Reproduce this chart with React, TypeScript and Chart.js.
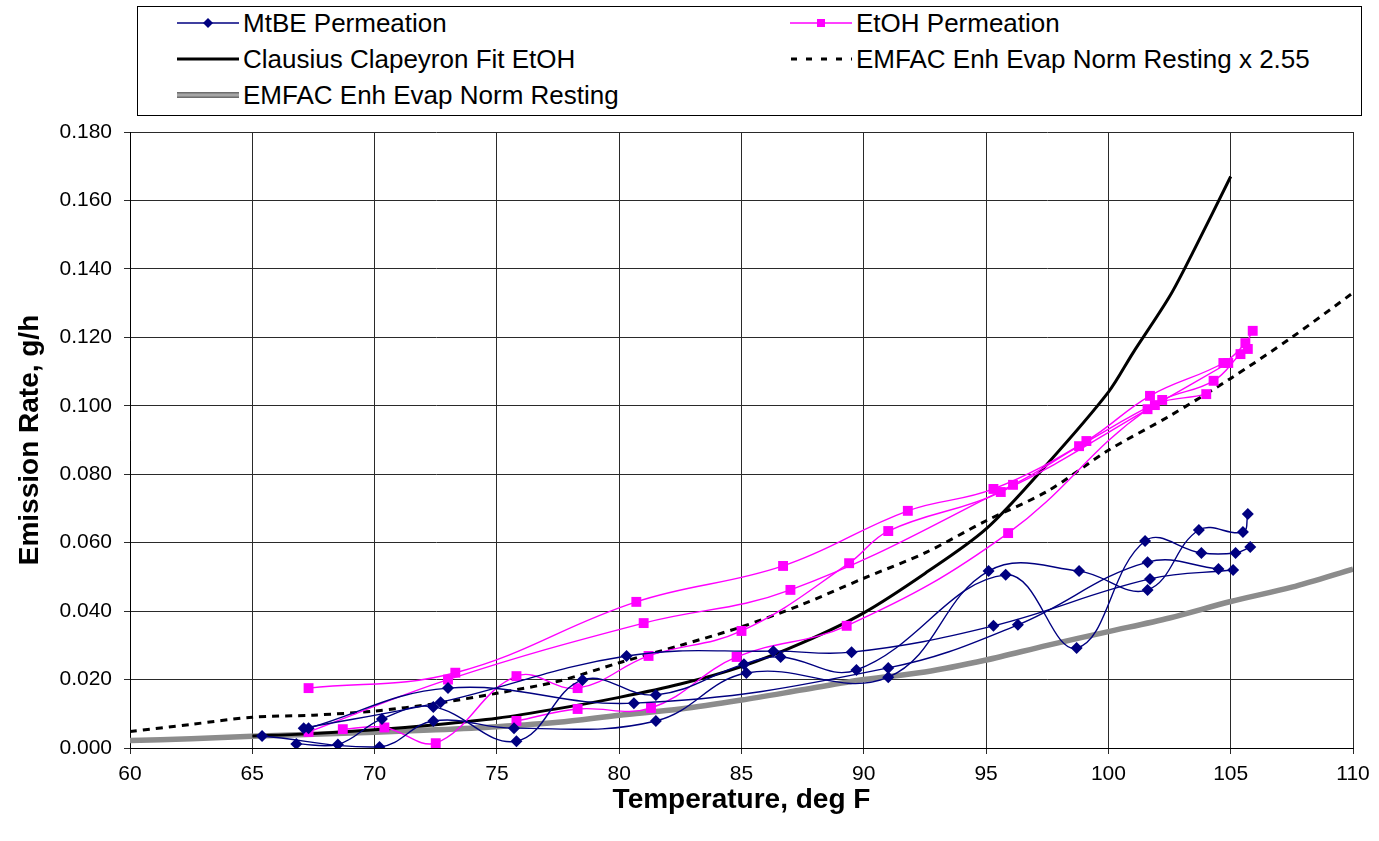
import React, { useEffect, useRef } from 'react';
import { Chart, registerables } from 'chart.js';

Chart.register(...registerables);

// ---------- axis ----------
const xMin = 60;
const xMax = 110;
const xStep = 5;
const yMin = 0;
const yMax = 0.18;
const yStep = 0.02;

// ---------- MtBE permeation runs (deg F, g/h) ----------
const mtbeRunATemp = [65.4, 70.2, 72.4, 75.7, 81.5, 85.2, 91.0, 95.1, 98.8, 101.6, 103.7, 105.5, 105.7];
const mtbeRunARate = [0.0035, 0.0003, 0.0079, 0.0058, 0.0079, 0.0219, 0.0207, 0.0517, 0.0517, 0.0462, 0.0637, 0.0631, 0.0684];
const mtbeRunBTemp = [66.8, 68.5, 70.3, 72.4, 75.8, 78.5, 81.5, 85.1, 86.6, 89.7, 95.8, 98.7, 101.5, 103.8, 105.2, 105.8];
const mtbeRunBRate = [0.0012, 0.0010, 0.0085, 0.0120, 0.0020, 0.0199, 0.0155, 0.0245, 0.0266, 0.0228, 0.0506, 0.0292, 0.0605, 0.0570, 0.0570, 0.0587];
const mtbeRunCTemp = [67.1, 72.7, 80.3, 86.3, 89.5, 95.3, 101.7, 105.1];
const mtbeRunCRate = [0.0058, 0.0134, 0.0269, 0.0283, 0.0280, 0.0357, 0.0494, 0.0520];
const mtbeRunDTemp = [67.3, 73.0, 80.6, 91.0, 96.3, 101.6, 104.5];
const mtbeRunDRate = [0.0058, 0.0175, 0.0131, 0.0234, 0.0360, 0.0543, 0.0523];

// ---------- EtOH permeation runs (deg F, g/h) ----------
const etohRunATemp = [67.3, 73.3, 80.7, 86.7, 91.8, 95.3, 99.1, 101.7, 104.7, 105.6, 105.9];
const etohRunARate = [0.0175, 0.0220, 0.0427, 0.0532, 0.0693, 0.0757, 0.0897, 0.1029, 0.1125, 0.1183, 0.1219];
const etohRunBTemp = [67.3, 73.0, 81.0, 87.0, 96.1, 98.8, 102.2, 104.3, 105.4, 105.7];
const etohRunBRate = [0.0047, 0.0200, 0.0365, 0.0462, 0.0769, 0.0882, 0.1017, 0.1073, 0.1151, 0.1166];
const etohRunCTemp = [68.7, 70.4, 72.5, 75.8, 78.3, 81.2, 85.0, 89.4, 91.0, 95.6, 101.9, 104.9];
const etohRunCRate = [0.0055, 0.0060, 0.0014, 0.0210, 0.0175, 0.0269, 0.0342, 0.0540, 0.0634, 0.0748, 0.1002, 0.1125];
const etohRunDTemp = [75.8, 78.3, 81.3, 84.8, 89.3, 95.9, 101.6, 104.0];
const etohRunDRate = [0.0079, 0.0114, 0.0117, 0.0266, 0.0357, 0.0628, 0.0990, 0.1034];

// ---------- Clausius Clapeyron fit EtOH ----------
const ccTemp = [65, 67.5, 70, 72.5, 75, 77.5, 80, 82.5, 85, 87.5, 90, 92.5, 95, 97.5, 100, 101, 102.5, 103.5, 105];
const ccRate = [0.0035, 0.0042, 0.0053, 0.0068, 0.0087, 0.0115, 0.0148, 0.0187, 0.0238, 0.0308, 0.0395, 0.0510, 0.0640, 0.0830, 0.1040, 0.1154, 0.1319, 0.1455, 0.1670];

// ---------- EMFAC Enh Evap Norm Resting (x 2.55 and plain) ----------
const emfacTemp = [60, 62.5, 65, 67.5, 70, 72.5, 75, 77.5, 80, 82.5, 85, 87.5, 90, 92.5, 95, 97.5, 100, 102.5, 105, 107.5, 110];
const emfacX255Rate = [0.0048, 0.0069, 0.0090, 0.0096, 0.0108, 0.0130, 0.0160, 0.0195, 0.0249, 0.0300, 0.0354, 0.0420, 0.0496, 0.0570, 0.0664, 0.0750, 0.0870, 0.0970, 0.1080, 0.1200, 0.1330];
const emfacRate = [0.0022, 0.0027, 0.0034, 0.0040, 0.0046, 0.0053, 0.0062, 0.0075, 0.0096, 0.0114, 0.0140, 0.0170, 0.0200, 0.0222, 0.0257, 0.0300, 0.0340, 0.0380, 0.0428, 0.0470, 0.0523];

const FONT = "'Liberation Sans', Arial, Helvetica, sans-serif";
const NAVY = '#000080';
const MAGENTA = '#FF00FF';
const GRAY = '#8c8c8c';

function pts(xs: number[], ys: number[]) {
  return xs.map((x, i) => ({ x, y: ys[i] }));
}

function LegendSample({ kind }: { kind: string }) {
  return (
    <svg width={62} height={16} style={{ display: 'block' }}>
      {kind === 'mtbe' && (
        <g>
          <line x1={0} y1={8} x2={62} y2={8} stroke={NAVY} strokeWidth={1.5} />
          <polygon points="31,3 36,8 31,13 26,8" fill={NAVY} />
        </g>
      )}
      {kind === 'etoh' && (
        <g>
          <line x1={0} y1={8} x2={62} y2={8} stroke={MAGENTA} strokeWidth={1.5} />
          <rect x={27} y={4} width={8} height={8} fill={MAGENTA} />
        </g>
      )}
      {kind === 'cc' && <line x1={0} y1={8} x2={62} y2={8} stroke="#000" strokeWidth={3} />}
      {kind === 'dash' && (
        <line x1={1} y1={8} x2={62} y2={8} stroke="#000" strokeWidth={3} strokeDasharray="6,9" />
      )}
      {kind === 'gray' && (
        <g>
          <line x1={0} y1={8} x2={62} y2={8} stroke="#6e6e6e" strokeWidth={6} />
          <line x1={0} y1={8} x2={62} y2={8} stroke="#a6a6a6" strokeWidth={3} />
        </g>
      )}
    </svg>
  );
}

const legendItems = [
  { label: 'MtBE Permeation', kind: 'mtbe', col: 0, row: 0 },
  { label: 'EtOH Permeation', kind: 'etoh', col: 1, row: 0 },
  { label: 'Clausius Clapeyron Fit EtOH', kind: 'cc', col: 0, row: 1 },
  { label: 'EMFAC Enh Evap Norm Resting x 2.55', kind: 'dash', col: 1, row: 1 },
  { label: 'EMFAC Enh Evap Norm Resting', kind: 'gray', col: 0, row: 2 },
];

export default function App() {
  const canvasRef = useRef<HTMLCanvasElement>(null);

  useEffect(() => {
    if (!canvasRef.current) return;
    const datasets: any[] = [];

    const mtbeRuns: [number[], number[]][] = [
      [mtbeRunATemp, mtbeRunARate],
      [mtbeRunBTemp, mtbeRunBRate],
      [mtbeRunCTemp, mtbeRunCRate],
      [mtbeRunDTemp, mtbeRunDRate],
    ];
    const etohRuns: [number[], number[]][] = [
      [etohRunATemp, etohRunARate],
      [etohRunBTemp, etohRunBRate],
      [etohRunCTemp, etohRunCRate],
      [etohRunDTemp, etohRunDRate],
    ];

    mtbeRuns.forEach(([t, r]) => {
      datasets.push({
        label: 'MtBE Permeation',
        data: pts(t, r),
        showLine: true,
        borderColor: NAVY,
        backgroundColor: NAVY,
        borderWidth: 1.4,
        pointStyle: 'rectRot',
        pointRadius: 6,
        pointBorderWidth: 0,
        pointBackgroundColor: NAVY,
        tension: 0.4,
      });
    });
    etohRuns.forEach(([t, r]) => {
      datasets.push({
        label: 'EtOH Permeation',
        data: pts(t, r),
        showLine: true,
        borderColor: MAGENTA,
        backgroundColor: MAGENTA,
        borderWidth: 1.4,
        pointStyle: 'rect',
        pointRadius: 7,
        pointBorderWidth: 0,
        pointBackgroundColor: MAGENTA,
        tension: 0.4,
      });
    });
    datasets.push({
      label: 'Clausius Clapeyron Fit EtOH',
      data: pts(ccTemp, ccRate),
      showLine: true,
      borderColor: '#000',
      backgroundColor: '#000',
      borderWidth: 3,
      pointRadius: 0,
      tension: 0.3,
    });
    datasets.push({
      label: 'EMFAC Enh Evap Norm Resting x 2.55',
      data: pts(emfacTemp, emfacX255Rate),
      showLine: true,
      borderColor: '#000',
      backgroundColor: '#000',
      borderWidth: 3,
      borderDash: [7, 6],
      pointRadius: 0,
      tension: 0.3,
    });
    datasets.push({
      label: 'EMFAC Enh Evap Norm Resting',
      data: pts(emfacTemp, emfacRate),
      showLine: true,
      borderColor: GRAY,
      backgroundColor: GRAY,
      borderWidth: 5.5,
      pointRadius: 0,
      tension: 0.3,
    });

    const chart = new Chart(canvasRef.current, {
      type: 'scatter',
      data: { datasets },
      options: {
        animation: false,
        responsive: false,
        devicePixelRatio: 1,
        layout: { padding: { top: 132, right: 26, left: 0, bottom: 0 } },
        plugins: {
          legend: { display: false },
          tooltip: { enabled: false },
        },
        scales: {
          x: {
            type: 'linear',
            min: xMin,
            max: xMax,
            ticks: {
              stepSize: xStep,
              color: '#000',
              font: { family: FONT, size: 21 },
              padding: 8,
            },
            grid: { color: '#2a2a2a', lineWidth: 1, tickLength: 6 },
            border: { color: '#000', width: 1 },
            title: {
              display: true,
              text: 'Temperature, deg F',
              color: '#000',
              font: { family: FONT, size: 28, weight: 'bold' },
              padding: { top: 0, bottom: 24 },
            },
            afterFit: (s: any) => {
              s.height = 93;
            },
          },
          y: {
            type: 'linear',
            min: yMin,
            max: yMax,
            ticks: {
              stepSize: yStep,
              color: '#000',
              font: { family: FONT, size: 21 },
              padding: 12,
              callback: (v: any) => Number(v).toFixed(3),
            },
            grid: { color: '#2a2a2a', lineWidth: 1, tickLength: 6 },
            border: { color: '#000', width: 1 },
            title: {
              display: true,
              text: 'Emission Rate, g/h',
              color: '#000',
              font: { family: FONT, size: 28, weight: 'bold' },
              padding: { top: 13, bottom: 0 },
            },
            afterFit: (s: any) => {
              s.width = 130;
            },
          },
        },
      } as any,
    });
    return () => chart.destroy();
  }, []);

  return (
    <div style={{ position: 'absolute', left: 0, top: 0, width: 1379, height: 841, background: '#fff' }}>
      <canvas ref={canvasRef} width={1379} height={841} style={{ display: 'block' }} />
      <div
        style={{
          position: 'absolute',
          left: 137,
          top: 6,
          width: 1225,
          height: 110,
          border: '1px solid #000',
          background: '#fff',
          boxSizing: 'border-box',
        }}
      >
        {legendItems.map((it) => (
          <div
            key={it.label}
            style={{
              position: 'absolute',
              left: (it.col === 0 ? 176 : 789) - 137,
              top: 22 + it.row * 36 - 6 - 15,
              height: 30,
              display: 'flex',
              alignItems: 'center',
              whiteSpace: 'nowrap',
            }}
          >
            <LegendSample kind={it.kind} />
            <span style={{ marginLeft: 4, fontFamily: FONT, fontSize: 26, color: '#000', lineHeight: '30px' }}>
              {it.label}
            </span>
          </div>
        ))}
      </div>
    </div>
  );
}
